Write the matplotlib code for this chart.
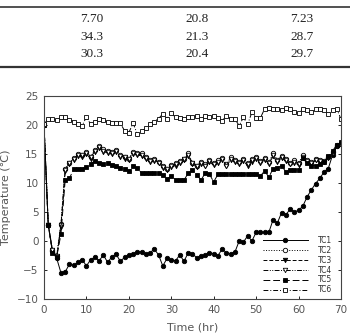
import matplotlib.pyplot as plt
from matplotlib.lines import Line2D
import numpy as np

# table fragment above the chart
table_rows = [["7.70", "20.8", "7.23"],
              ["34.3", "21.3", "28.7"],
              ["30.3", "20.4", "29.7"]]

hours = np.arange(0, 71)

tc1 = [20.0, 2.8, -1.8, -3.0, -5.5, -5.3, -4.0, -4.2, -3.7, -3.2,
       -4.3, -3.2, -2.8, -3.4, -2.4, -3.7, -2.7, -2.3, -3.5, -2.8,
       -2.4, -2.2, -1.9, -1.9, -2.3, -2.0, -1.4, -2.4, -4.3, -3.0,
       -3.3, -3.4, -2.4, -3.5, -2.0, -2.2, -2.9, -2.6, -2.4, -2.0,
       -2.2, -2.5, -1.4, -2.0, -2.2, -1.9, 0.0, -0.2, 0.9, 0.0,
       1.5, 1.5, 1.5, 1.5, 3.7, 3.1, 4.9, 4.5, 5.5, 5.0,
       5.3, 6.0, 7.6, 8.8, 9.9, 10.8, 11.9, 12.5, 14.8, 16.3, 16.8]

tc2 = [20.0, 2.8, -1.5, -2.5, 3.0, 12.5, 13.5, 14.3, 15.0, 14.8,
       15.4, 14.5, 15.7, 16.3, 15.8, 15.6, 15.4, 15.7, 14.8, 14.5,
       14.2, 15.4, 15.2, 15.1, 14.5, 13.9, 14.2, 13.7, 12.9, 12.5,
       13.1, 13.4, 13.8, 14.2, 15.1, 13.5, 13.0, 13.6, 13.2, 14.0,
       13.5, 13.9, 14.3, 13.2, 14.4, 14.0, 13.6, 14.2, 13.4, 14.1,
       14.5, 13.8, 14.3, 13.6, 15.1, 14.0, 14.7, 14.2, 13.5, 13.9,
       13.4, 14.8, 14.0, 13.6, 14.2, 14.0, 13.8, 14.5, 15.3, 16.5, 16.8]

tc3 = [20.0, 2.8, -1.8, -2.8, 2.5, 12.0, 13.2, 14.0, 14.6, 14.5,
       15.0, 14.2, 15.3, 16.0, 15.4, 15.2, 15.0, 15.3, 14.5, 14.2,
       14.0, 15.0, 14.8, 14.7, 14.2, 13.6, 13.8, 13.4, 12.6, 12.2,
       12.8, 13.0, 13.5, 14.0, 14.7, 13.2, 12.7, 13.3, 12.9, 13.6,
       13.1, 13.5, 14.0, 12.9, 14.0, 13.6, 13.3, 13.8, 13.0, 13.7,
       14.1, 13.5, 13.9, 13.3, 14.6, 13.6, 14.3, 13.8, 13.2, 13.5,
       13.1, 14.3, 13.6, 13.3, 13.9, 13.7, 13.6, 14.3, 15.1, 16.3, 16.7]

tc4 = [20.0, 2.8, -1.6, -2.6, 2.8, 12.3, 13.4, 14.2, 14.8, 14.9,
       15.2, 14.4, 15.5, 16.2, 15.6, 15.4, 15.2, 15.5, 14.7, 14.4,
       14.1, 15.2, 15.0, 14.9, 14.3, 13.8, 14.0, 13.5, 12.8, 12.4,
       12.9, 13.2, 13.6, 14.1, 14.9, 13.4, 12.9, 13.4, 13.0, 13.8,
       13.3, 13.7, 14.1, 13.0, 14.2, 13.8, 13.4, 14.0, 13.2, 13.9,
       14.3, 13.6, 14.1, 13.4, 14.8, 13.8, 14.5, 14.0, 13.3, 13.7,
       13.2, 14.5, 13.8, 13.4, 14.0, 13.8, 13.7, 14.4, 15.2, 16.4, 16.8]

tc5 = [20.0, 2.8, -2.0, -2.7, 1.2, 10.6, 10.8, 12.4, 12.5, 12.5,
       12.8, 13.3, 13.8, 13.5, 13.3, 13.5, 13.1, 12.9, 12.6, 12.4,
       12.0, 12.9, 12.6, 11.7, 11.7, 11.7, 11.7, 11.7, 11.4, 10.7,
       11.2, 10.6, 10.5, 10.5, 11.7, 12.2, 11.4, 10.5, 11.7, 11.5,
       10.2, 11.5, 11.5, 11.5, 11.5, 11.5, 11.5, 11.5, 11.5, 11.5,
       11.5, 11.2, 12.1, 11.0, 12.5, 12.6, 13.0, 11.9, 12.3, 12.3,
       12.2, 14.3, 13.4, 13.0, 13.0, 13.2, 13.7, 14.6, 15.5, 16.6, 17.0]

tc6 = [20.2, 21.0, 21.0, 20.8, 21.4, 21.3, 20.9, 20.6, 20.2, 19.9,
       21.4, 20.1, 20.6, 21.0, 20.8, 20.5, 20.3, 20.3, 20.3, 19.0,
       18.7, 20.3, 18.4, 19.0, 19.4, 20.1, 20.6, 21.1, 21.9, 21.1,
       22.1, 21.3, 21.2, 21.1, 21.3, 21.3, 21.6, 21.0, 21.6, 21.3,
       21.6, 21.2, 20.7, 21.6, 21.0, 21.0, 19.9, 21.3, 20.1, 22.2,
       21.2, 21.2, 22.8, 23.0, 22.8, 22.8, 22.5, 23.0, 22.8, 22.2,
       22.0, 22.8, 22.6, 22.2, 22.8, 22.8, 22.5, 21.9, 22.5, 22.8, 21.0]

fig = plt.figure(figsize=(3.5, 3.33), dpi=100)

# table text
col_x = [92 / 350, 197 / 350, 302 / 350]
row_y = [1 - 18.5 / 333, 1 - 36.5 / 333, 1 - 54 / 333]
for r, row in enumerate(table_rows):
    for c, val in enumerate(row):
        fig.text(col_x[c], row_y[r], val, ha='center', va='center',
                 family='Liberation Serif', fontsize=9.5, color='#222222')
fig.add_artist(Line2D([0, 1], [1 - 7 / 333, 1 - 7 / 333], color='#333333', lw=1.2))
fig.add_artist(Line2D([0, 1], [1 - 67 / 333, 1 - 67 / 333], color='#333333', lw=1.6))

ax = fig.add_axes([44 / 350, 1 - 299 / 333, 297 / 350, 203 / 333])

ms = 3.2
series = [
    ("TC1", tc1, '-', 'o', 'black'),
    ("TC2", tc2, ':', 'o', 'white'),
    ("TC3", tc3, (0, (4, 2)), 'v', 'black'),
    ("TC4", tc4, (0, (5, 1.5, 1, 1.5, 1, 1.5)), 'v', 'white'),
    ("TC5", tc5, (0, (7, 3)), 's', 'black'),
    ("TC6", tc6, (0, (5, 2, 1, 2)), 's', 'white'),
]
for name, vals, ls, mk, fc in series:
    ax.plot(hours, vals, linestyle=ls, marker=mk, color='black', lw=0.7,
            markersize=ms, markerfacecolor=fc, markeredgewidth=0.6, label=name)

ax.set_xlim(0, 70)
ax.set_ylim(-10, 25)
ax.set_xticks(range(0, 71, 10))
ax.set_yticks(range(-10, 26, 5))
ax.tick_params(direction='in', length=2.5, width=0.6, labelsize=7.5,
               labelcolor='#555555', right=True, pad=4)
for sp in ax.spines.values():
    sp.set_linewidth(0.8)
    sp.set_color('#444444')

ax.set_xlabel('Time (hr)', fontsize=8, color='#555555', labelpad=6)
ax.set_ylabel('Temperature (\u2103)', fontsize=8, color='#555555', labelpad=4)

leg = ax.legend(loc='lower right', frameon=False, fontsize=5.5, handlelength=5.9,
                labelspacing=0.12, handletextpad=1.3, borderaxespad=0.3,
                borderpad=0.3, bbox_to_anchor=(0.985, 0.0))
for t in leg.get_texts():
    t.set_color('#333333')

fig.savefig('out.png', dpi=100)
